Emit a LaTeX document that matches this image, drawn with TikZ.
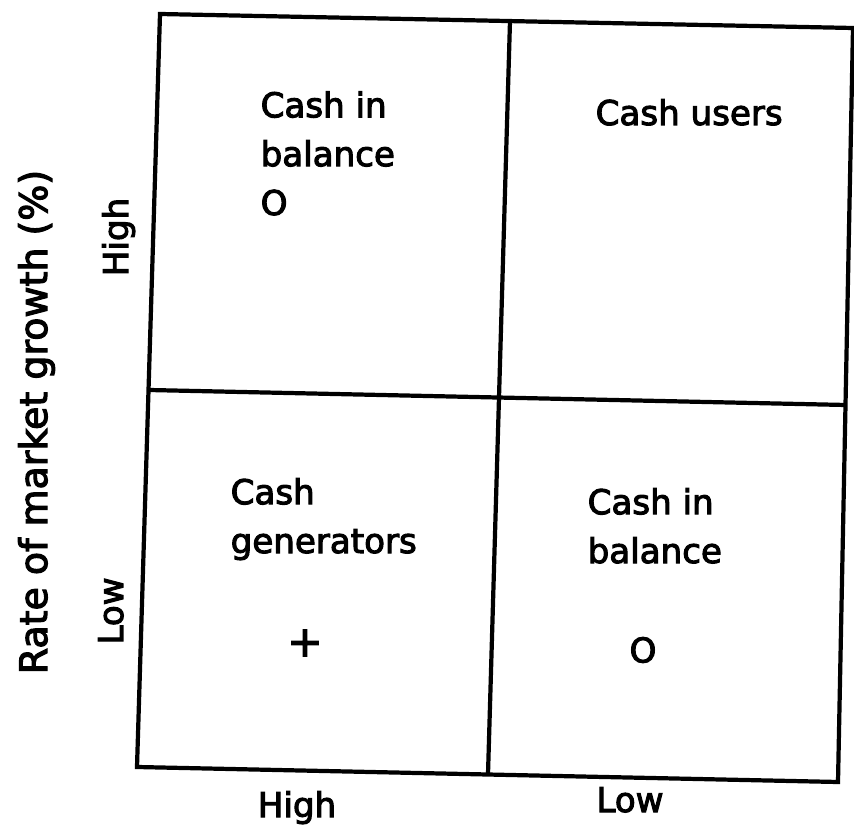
\documentclass[tikz,border=0pt]{standalone}
\usepackage{fontspec}
\newfontfamily\lettering[FakeBold=3]{DejaVu Sans}
\usepackage{tikz}

\begin{document}
\begin{tikzpicture}[every node/.style={font=\lettering\fontsize{9.7}{13.9}\selectfont, inner sep=0pt},
	grid/.style={line width=1.2pt, line join=miter},
	cell/.style={anchor=base west, align=left}]
	\useasboundingbox (0,0) rectangle (8.54,8.25);
	% outer frame, slightly skewed like the scan
	\coordinate (tl) at (1.60,8.11);
	\coordinate (tr) at (8.53,7.97);
	\coordinate (br) at (8.38,0.43);
	\coordinate (bl) at (1.37,0.58);
	\coordinate (mt) at (5.10,8.04);
	\coordinate (mb) at (4.88,0.51);
	\coordinate (ml) at (1.49,4.35);
	\coordinate (mr) at (8.46,4.20);
	\draw[grid] (tl) -- (tr) -- (br) -- (bl) -- cycle;
	\draw[grid] (mt) -- (mb);
	\draw[grid] (ml) -- (mr);
	% quadrants (base = last line)
	\node[cell] (hh) at (2.60,6.10) {Cash in\\balance\\O};
	\node[cell] (lh) at (5.95,7.00) {Cash users};
	\node[cell] (hl) at (2.30,2.72) {Cash\\generators};
	\node[font=\lettering\fontsize{12}{14}\selectfont] (plus) at (3.05,1.82) {+};
	\node[cell] (ll) at (5.87,2.62) {Cash in\\balance};
	\node (zero) at (6.43,1.75) {O};
	% axes
	\node[anchor=base] (xhigh) at (2.97,0.08) {High};
	\node[anchor=base] (xlow) at (6.30,0.13) {Low};
	\node[anchor=base, rotate=90] (yhigh) at (1.28,5.88) {High};
	\node[anchor=base, rotate=90] (ylow) at (1.23,2.14) {Low};
	\node[anchor=base, rotate=90, font=\lettering\fontsize{10.8}{13}\selectfont] (ytitle) at (0.47,4.03) {Rate of market growth (\%)};
\end{tikzpicture}
\end{document}
